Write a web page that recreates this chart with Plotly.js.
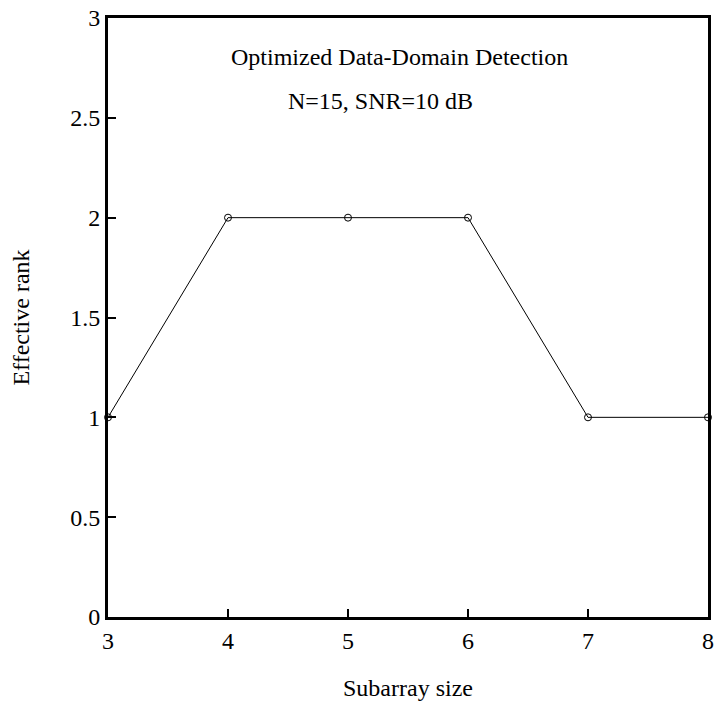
<!DOCTYPE html>
<html>
<head>
<meta charset="utf-8">
<script src="https://cdn.plot.ly/plotly-3.0.1.min.js"></script>
<style>html,body{margin:0;padding:0;background:#fff;}#chart{width:715px;height:706px;}</style>
</head>
<body>
<div id="chart"></div>
<script>
const subarraySize = [3, 4, 5, 6, 7, 8];
const effectiveRank = [1, 2, 2, 2, 1, 1];
const xTickVals = [3, 4, 5, 6, 7, 8];
const yTickVals = [0, 0.5, 1, 1.5, 2, 2.5, 3];
const yTickText = ['0', '0.5', '1', '1.5', '2', '2.5', '3'];
const titleLine1 = 'Optimized Data-Domain Detection';
const titleLine2 = 'N=15, SNR=10 dB';

const font = {family: 'Liberation Serif, Times New Roman, serif', size: 24, color: '#000'};

const trace = {
  x: subarraySize, y: effectiveRank,
  type: 'scatter', mode: 'lines+markers',
  line: {color: '#000', width: 1},
  marker: {symbol: 'circle-open', size: 7, color: '#000', line: {width: 1, color: '#000'}},
  cliponaxis: false, hoverinfo: 'none'
};

const layout = {
  width: 715, height: 706,
  margin: {l: 108, r: 7, t: 18, b: 89},
  paper_bgcolor: '#fff', plot_bgcolor: '#fff',
  showlegend: false,
  font: font,
  xaxis: {
    range: [3, 8], tickvals: xTickVals, ticks: 'inside', ticklen: 8, tickwidth: 2, tickcolor: '#000',
    showline: true, linewidth: 3, linecolor: '#000', mirror: true, showgrid: false, zeroline: false,
    tickfont: font, title: {text: 'Subarray size', font: font, standoff: 27}
  },
  yaxis: {
    range: [0, 3], tickvals: yTickVals, ticktext: yTickText, ticks: 'inside', ticklen: 8, tickwidth: 2, tickcolor: '#000',
    showline: true, linewidth: 3, linecolor: '#000', mirror: true, showgrid: false, zeroline: false,
    tickfont: font, title: {text: 'Effective rank', font: font, standoff: 34}
  },
  annotations: [
    {x: 5.43, y: 2.805, xref: 'x', yref: 'y', text: titleLine1, showarrow: false, font: font},
    {x: 5.27, y: 2.585, xref: 'x', yref: 'y', text: titleLine2, showarrow: false, font: font}
  ]
};

Plotly.newPlot('chart', [trace], layout, {displayModeBar: false, staticPlot: true});
</script>
</body>
</html>
